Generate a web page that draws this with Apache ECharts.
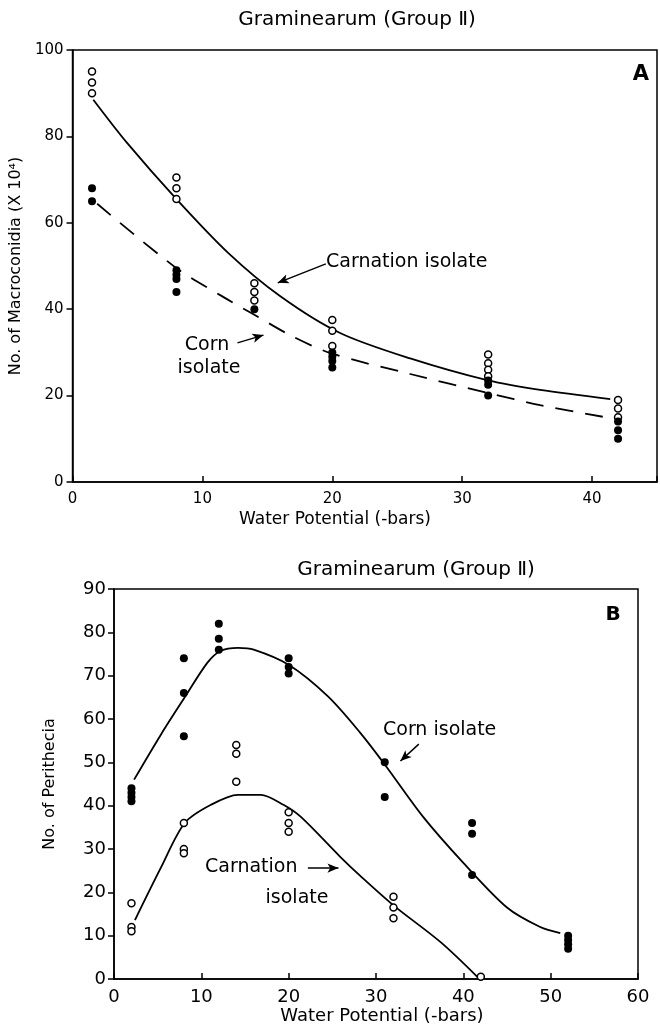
<!DOCTYPE html>
<html>
<head>
<meta charset="utf-8">
<script src="https://cdn.jsdelivr.net/npm/echarts@6/dist/echarts.min.js"></script>
<style>
html,body{margin:0;padding:0;background:#fff}
#chart{width:660px;height:1026px}
</style>
</head>
<body>
<div id="chart"></div>
<script>
// ---- panel A : macroconidia vs water potential ----
var aCarnPts = [[1.5,95],[1.5,92.5],[1.5,90],[8,70.5],[8,68],[8,65.5],[14,46],[14,44],[14,42],
                [20,37.5],[20,35],[20,31.5],[32,29.5],[32,27.5],[32,26],[32,24.5],[42,19],[42,17],[42,15]];
var aCornPts = [[1.5,68],[1.5,65],[8,49],[8,48],[8,47],[8,44],[14,40],[20,30],[20,29],[20,28],[20,26.5],
                [32,23.5],[32,22.5],[32,20],[42,14],[42,12],[42,10]];
var aCarnCurve = [[1.6,88.5],[4.2,78.5],[8,65.5],[12,53],[16,43],[20.6,34.5],[26,28.6],[32,23.5],[36,21.3],[41.4,19.2]];
var aCornCurve = [[1.9,64.4],[8,49.5],[11.4,43.2],[14,38.7],[17,33.6],[20,29.7],[26,25],[32,20.6],[36,17.8],[41.4,14.8]];

// ---- panel B : perithecia vs water potential ----
var bCornPts = [[2,44],[2,43],[2,42],[2,41],[8,74],[8,66],[8,56],[12,82],[12,78.5],[12,76],[20,74],[20,72],[20,70.5],
                [31,50],[31,42],[41,36],[41,33.5],[41,24],[52,10],[52,9],[52,8],[52,7]];
var bCarnPts = [[2,17.5],[2,12],[2,11],[8,36],[8,30],[8,29],[14,54],[14,52],[14,45.5],[20,38.5],[20,36],[20,34],
                [32,19],[32,16.5],[32,14],[42,0.5]];
var bCornCurve = [[2.3,46],[5.4,56.5],[8.1,65],[10.7,73],[12.2,75.7],[14.2,76.4],[16,76],[20,72.5],[24.5,65.2],
                  [28.2,56.8],[31,49.5],[35.4,37.4],[40,26.8],[45,16.5],[48.8,12],[51.1,10.6]];
var bCarnCurve = [[2.4,13.6],[5.4,25.8],[8.1,36],[11.1,40.2],[14.2,42.5],[16.8,42.5],[19.4,40.2],[21.4,37.4],
                  [25.9,28.2],[28.2,23.8],[32,17],[37.4,8.5],[41.6,0.5]];

var ink = '#000';
var font = '"DejaVu Sans", "Noto Sans CJK SC", sans-serif';

function axisBase(extra) {
	var o = {
		type: 'value',
		axisLine: {show: true, onZero: false, lineStyle: {color: ink, width: 1.5}},
		axisTick: {show: true, length: 6, lineStyle: {color: ink, width: 1.5}},
		splitLine: {show: false},
		axisLabel: {color: ink, fontFamily: font}
	};
	for (var k in extra) o[k] = extra[k];
	return o;
}

function openDots(data, xi) {
	return {type: 'scatter', xAxisIndex: xi, yAxisIndex: xi, data: data, symbol: 'circle', symbolSize: 7,
		itemStyle: {color: '#fff', borderColor: ink, borderWidth: 1.5, opacity: 1}, z: 5};
}
function fullDots(data, xi) {
	return {type: 'scatter', xAxisIndex: xi, yAxisIndex: xi, data: data, symbol: 'circle', symbolSize: 8,
		itemStyle: {color: ink, opacity: 1}, z: 6};
}
function curve(data, xi, dashed) {
	return {type: 'line', xAxisIndex: xi, yAxisIndex: xi, data: data, smooth: 0.3, showSymbol: false,
		lineStyle: {color: ink, width: 1.8, type: dashed ? [18, 12] : 'solid'}, z: 3};
}
function arrow(xi, from, to) {
	return {type: 'line', xAxisIndex: xi, yAxisIndex: xi, data: [], silent: true,
		markLine: {silent: true, symbol: ['none', 'arrow'], symbolSize: [7, 11], label: {show: false},
			lineStyle: {color: ink, width: 1.5, type: 'solid'},
			data: [[{coord: from}, {coord: to}]]}};
}
function txt(x, y, s, size, align, bold) {
	return {type: 'text', x: x, y: y, style: {text: s, fill: ink, font: (bold ? 'bold ' : '') + size + 'px ' + font,
		textAlign: align || 'left', textVerticalAlign: 'middle'}};
}

var myChart = echarts.init(document.getElementById('chart'));
var option = {
	backgroundColor: '#fff',
	animation: false,
	grid: [
		{left: 72, top: 50, width: 585, height: 432, show: true, borderColor: ink, borderWidth: 1.5},
		{left: 114, top: 589, width: 524, height: 390, show: true, borderColor: ink, borderWidth: 1.5}
	],
	xAxis: [
		axisBase({gridIndex: 0, min: 0, max: 45, interval: 10,
			axisTick: {show: true, inside: true, length: 6, lineStyle: {color: ink, width: 1.5}},
			axisLabel: {color: ink, fontFamily: font, fontSize: 15, margin: 10,
				formatter: function(v) { return v > 40 ? '' : v; }}}),
		axisBase({gridIndex: 1, min: 0, max: 60, interval: 10,
			axisTick: {show: true, inside: true, length: 6, lineStyle: {color: ink, width: 1.5}},
			axisLabel: {color: ink, fontFamily: font, fontSize: 18, margin: 9}})
	],
	yAxis: [
		axisBase({gridIndex: 0, min: 0, max: 100, interval: 20,
			axisLabel: {color: ink, fontFamily: font, fontSize: 15, margin: 9},
			name: 'No. of Macroconidia (X 10⁴)', nameLocation: 'middle', nameGap: 46, nameRotate: 90,
			nameTextStyle: {color: ink, fontFamily: font, fontSize: 16}}),
		axisBase({gridIndex: 1, min: 0, max: 90, interval: 10,
			axisLabel: {color: ink, fontFamily: font, fontSize: 18, margin: 8},
			name: 'No. of Perithecia', nameLocation: 'middle', nameGap: 56, nameRotate: 90,
			nameTextStyle: {color: ink, fontFamily: font, fontSize: 16}})
	],
	series: [
		curve(aCarnCurve, 0, false),
		curve(aCornCurve, 0, true),
		openDots(aCarnPts, 0),
		fullDots(aCornPts, 0),
		arrow(0, [19.5, 50.5], [15.8, 46.1]),
		arrow(0, [12.7, 32.2], [14.7, 34]),
		curve(bCornCurve, 1, false),
		curve(bCarnCurve, 1, false),
		openDots(bCarnPts, 1),
		fullDots(bCornPts, 1),
		arrow(1, [34.9, 54.2], [32.8, 50.3]),
		arrow(1, [22.2, 25.6], [25.7, 25.6])
	],
	graphic: [
		txt(357, 20, 'Graminearum (Group Ⅱ)', 20, 'center'),
		txt(641, 75, 'A', 21, 'center', true),
		txt(335, 520, 'Water Potential (-bars)', 17, 'center'),
		txt(326, 262, 'Carnation isolate', 19),
		txt(207, 345, 'Corn', 19, 'center'),
		txt(209, 368, 'isolate', 19, 'center'),
		txt(416, 570, 'Graminearum (Group Ⅱ)', 20, 'center'),
		txt(613, 615, 'B', 20, 'center', true),
		txt(382, 1016, 'Water Potential (-bars)', 18, 'center'),
		txt(383, 730, 'Corn isolate', 19),
		txt(205, 867, 'Carnation', 19),
		txt(297, 898, 'isolate', 19, 'center')
	]
};
myChart.setOption(option);
</script>
</body>
</html>
